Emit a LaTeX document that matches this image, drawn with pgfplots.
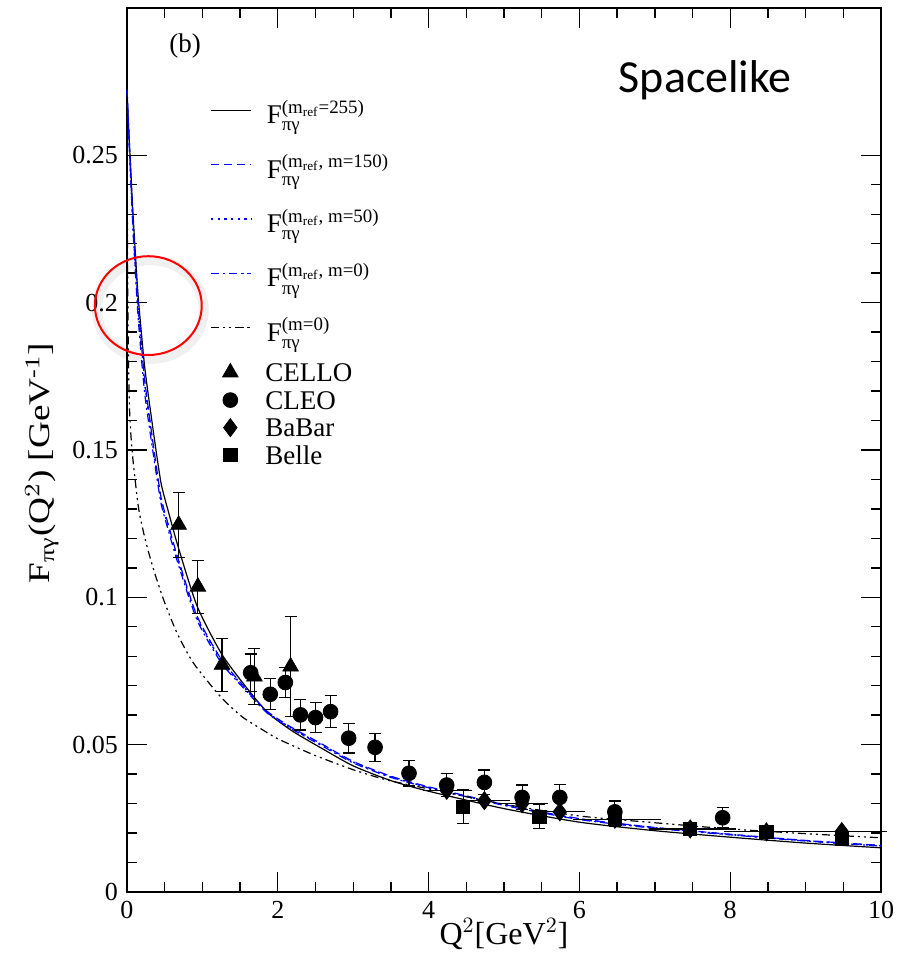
\documentclass[border=0pt]{standalone}
\usepackage{fontspec}
\setmainfont{Liberation Serif}
\newfontfamily\carlito{Carlito}
\usepackage{amsmath}
\usepackage{pgfplots}
\usepackage{pgfplotstable}
\pgfplotsset{compat=1.18}

\pgfplotstableread{
x y
0 0.272
0.02 0.260
0.04 0.250
0.08 0.230
0.14 0.205
0.19 0.190
0.24 0.177
0.34 0.158
0.45 0.139
0.55 0.129
0.68 0.117
0.93 0.097
1.25 0.081
1.55 0.0705
1.86 0.0610
2.2 0.0545
2.6 0.0485
3.0 0.0428
3.5 0.0378
4 0.0342
5 0.0283
6 0.0237
7 0.0208
8 0.0186
9 0.0166
10 0.0150
}\solid

\pgfplotstableread{
x y
0 0.272
0.02 0.260
0.04 0.2488
0.08 0.2277
0.14 0.2019
0.19 0.1862
0.24 0.1726
0.34 0.1533
0.45 0.1341
0.55 0.1245
0.68 0.1129
0.93 0.0936
1.25 0.0790
1.55 0.0698
1.86 0.0613
2.2 0.0556
2.6 0.0500
3.0 0.0443
3.5 0.0393
4 0.0357
5 0.0297
6 0.0249
7 0.0219
8 0.0196
9 0.0175
10 0.0158
}\mhf

\pgfplotstableread{
x y
0 0.272
0.02 0.2595
0.04 0.2485
0.08 0.2265
0.14 0.2009
0.19 0.1853
0.24 0.1717
0.34 0.1524
0.45 0.1334
0.55 0.1238
0.68 0.1123
0.93 0.0931
1.25 0.0786
1.55 0.0695
1.86 0.0610
2.2 0.0553
2.6 0.0497
3.0 0.0441
3.5 0.0391
4 0.0355
5 0.0296
6 0.0248
7 0.0218
8 0.0195
9 0.0174
10 0.0157
}\mfifty

\pgfplotstableread{
x y
0 0.272
0.02 0.259
0.04 0.2475
0.08 0.2243
0.14 0.1978
0.19 0.1815
0.24 0.1681
0.34 0.1501
0.45 0.1321
0.55 0.1226
0.68 0.1112
0.93 0.0922
1.25 0.0778
1.55 0.0691
1.86 0.0607
2.2 0.0551
2.6 0.0494
3.0 0.0438
3.5 0.0389
4 0.0354
5 0.0294
6 0.0246
7 0.0216
8 0.0194
9 0.0173
10 0.0156
}\mzero

\pgfplotstableread{
x y
0 0.270
0.004 0.235
0.01 0.205
0.02 0.180
0.035 0.163
0.06 0.152
0.09 0.144
0.155 0.130
0.243 0.1195
0.354 0.1093
0.487 0.0991
0.663 0.0879
0.884 0.0776
1.24 0.0663
1.525 0.0595
1.77 0.0555
2.0 0.0520
2.48 0.0465
3.0 0.0415
3.45 0.0380
4 0.0350
5 0.0298
6 0.0258
7 0.0235
8 0.0214
9 0.0198
10 0.0184
}\nozero

\pgfplotstableread{
x y e
0.685 0.1246 0.011
0.94 0.1036 0.009
1.26 0.0771 0.009
1.69 0.0731 0.0095
2.17 0.0765 0.017
}\cello

\pgfplotstableread{
x y e
1.64 0.0744 0.0064
1.90 0.0671 0.0053
2.10 0.0711 0.0052
2.30 0.0601 0.0051
2.50 0.0592 0.0052
2.70 0.0612 0.0055
2.94 0.0522 0.0050
3.29 0.0491 0.0048
3.74 0.0403 0.0043
4.24 0.0363 0.0040
4.74 0.0372 0.0042
5.24 0.0321 0.0042
5.74 0.0321 0.0045
6.47 0.0272 0.0037
7.90 0.0252 0.0035
}\cleo

\pgfplotstableread{
x y xm xp
4.24 0.0345 0.24 0.26
4.74 0.0310 0.24 0.26
5.24 0.0300 0.24 0.26
5.74 0.0272 0.24 0.26
6.47 0.0247 0.47 0.53
7.47 0.0214 0.47 0.53
8.48 0.0204 0.48 0.52
9.48 0.0205 0.48 0.52
}\babar

\pgfplotstableread{
x y e
4.46 0.0289 0.0057
5.47 0.0256 0.0040
6.47 0.0247 0.0025
7.47 0.0213 0.0020
8.48 0.0205 0.0020
9.48 0.0182 0.0020
}\belle

\definecolor{pblue}{RGB}{0,0,255}
\newcommand{\lstrut}{\rule[-12pt]{0pt}{27pt}}
\newcommand{\mstrut}{\rule[-3.5pt]{0pt}{14pt}}

\pgfplotsset{
  common/.style={
    scale only axis,
    width=377pt, height=442pt,
    xmin=0, xmax=10, ymin=0, ymax=0.3,
    clip=false,
    legend image code/.code={\path[draw=none,fill=none] (0pt,0pt) -- (20pt,0pt);\draw[mark repeat=2,mark phase=2,##1] plot coordinates {(0pt,0pt)(10pt,0pt)(20pt,0pt)};},
    legend cell align=left,
  },
}

\begin{document}
\begin{tikzpicture}
\begin{axis}[
  common,
  axis line style={line width=1pt},
  tick align=inside,
  major tick length=10pt, minor tick length=5pt,
  every tick/.style={black, line width=0.7pt},
  xtick={0,2,4,6,8,10},
  xticklabels={0,2,4,6,8,10},
  minor x tick num=3,
  ytick={0,0.05,0.1,0.15,0.2,0.25},
  yticklabels={0,0.05,0.1,0.15,0.2,0.25},
  minor y tick num=4,
  ticklabel style={font=\fontsize{13}{15}\selectfont},
  xticklabel style={yshift=-1pt},
  yticklabel style={xshift=-1pt},
  xlabel={Q$^{2}$[GeV$^{2}$]},
  xlabel style={font=\fontsize{16}{18}\selectfont, yshift=7pt},
  ylabel={F$_{\text{πγ}}$(Q$^{2}$) [GeV$^{\text{-1}}$]},
  ylabel style={font=\fontsize{15}{17}\selectfont, at={(ticklabel cs:0.485)}, xscale=1.24},
  legend style={draw=none, fill=none, at={(0.11,0.9035)}, anchor=north west,
    inner xsep=0pt, inner ysep=0pt, row sep=10.7pt, column sep=7.5pt,
    nodes={inner sep=0pt},
    font=\fontsize{13.5}{15}\selectfont},
]
\addplot[black, line width=0.6pt, smooth, tension=0.4] table[x=x,y=y]{\solid};
\addlegendentry{F$_{\text{πγ}}^{\text{(m\textsubscript{ref}=255)}}$\lstrut}
\addplot[pblue, line width=0.6pt, smooth, tension=0.4, dash pattern=on 4pt off 2.5pt] table[x=x,y=y]{\mhf};
\addlegendentry{F$_{\text{πγ}}^{\text{(m\textsubscript{ref}, m=150)}}$\lstrut}
\addplot[pblue, line width=0.8pt, smooth, tension=0.4, dash pattern=on 1pt off 2.3pt] table[x=x,y=y]{\mfifty};
\addlegendentry{F$_{\text{πγ}}^{\text{(m\textsubscript{ref}, m=50)}}$\lstrut}
\addplot[pblue, line width=0.6pt, smooth, tension=0.4, dash pattern=on 4pt off 2pt on 1pt off 2pt] table[x=x,y=y]{\mzero};
\addlegendentry{F$_{\text{πγ}}^{\text{(m\textsubscript{ref}, m=0)}}$\lstrut}
\addplot[black, line width=0.6pt, smooth, tension=0.4, dash pattern=on 4pt off 2pt on 1pt off 2pt on 1pt off 2pt] table[x=x,y=y]{\nozero};
\addlegendentry{F$_{\text{πγ}}^{\text{(m=0)}}$\lstrut}

\node[font=\fontsize{13.5}{15}\selectfont] at (axis cs:0.77,0.287) {(b)};
\node[font=\carlito\fontsize{23}{26}\selectfont] at (axis cs:7.67,0.2756) {Spacelike};
\draw[black, opacity=0.06, line width=5pt] ([xshift=1pt,yshift=-2pt]axis cs:0.283,0.199) ellipse [x radius=26.7pt, y radius=24.7pt];
\draw[red, line width=1pt] (axis cs:0.283,0.199) ellipse [x radius=26.7pt, y radius=24.7pt];
\end{axis}

\begin{axis}[
  common,
  hide axis,
  legend style={draw=none, fill=none, at={(0.11,0.6017)}, anchor=north west,
    inner xsep=0pt, inner ysep=0pt, row sep=1.8pt, column sep=7.5pt,
    nodes={inner sep=0pt},
    font=\fontsize{13.5}{15}\selectfont},
]
\addplot[black, only marks, mark=triangle*, mark size=4.5pt,
  error bars/.cd, y dir=both, y explicit,
  error bar style={line width=0.6pt},
  error mark options={rotate=90, mark size=3pt, line width=0.6pt}]
  table[x=x,y=y,y error=e]{\cello};
\addlegendentry{CELLO\mstrut}
\addplot[black, only marks, mark=*, mark size=3.7pt,
  error bars/.cd, y dir=both, y explicit,
  error bar style={line width=0.6pt},
  error mark options={rotate=90, mark size=3pt, line width=0.6pt}]
  table[x=x,y=y,y error=e]{\cleo};
\addlegendentry{CLEO\mstrut}
\addplot[black, only marks, mark=diamond*, mark size=4.5pt,
  error bars/.cd, x dir=both, x explicit,
  error bar style={line width=0.6pt},
  error mark options={mark size=3pt, line width=0.6pt}]
  table[x=x,y=y,x error plus=xp, x error minus=xm]{\babar};
\addlegendentry{BaBar\mstrut}
\addplot[black, only marks, mark=square*, mark size=3.3pt,
  error bars/.cd, y dir=both, y explicit,
  error bar style={line width=0.6pt},
  error mark options={rotate=90, mark size=3pt, line width=0.6pt}]
  table[x=x,y=y,y error=e]{\belle};
\addlegendentry{Belle\mstrut}
\end{axis}
\pgfresetboundingbox
\path[use as bounding box] (-63.5pt,-38.5pt) rectangle (389pt,446pt);
\end{tikzpicture}
\end{document}
